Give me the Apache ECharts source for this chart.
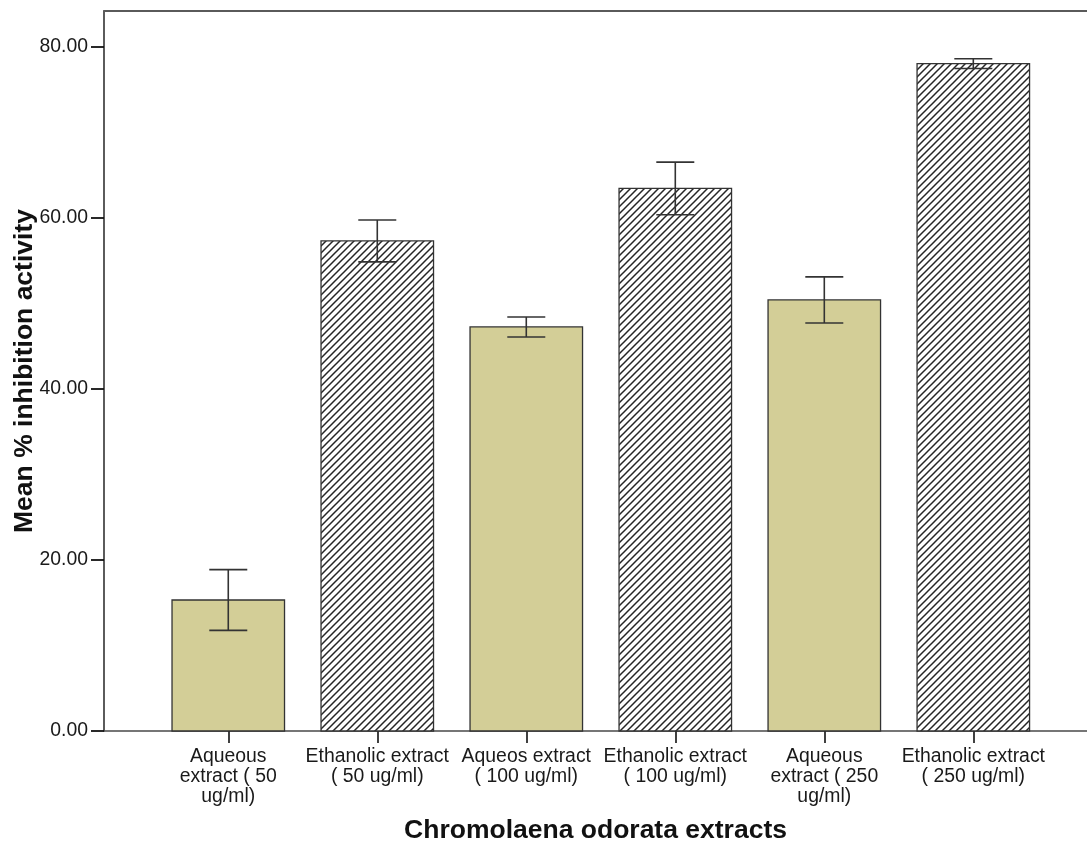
<!DOCTYPE html>
<html>
<head>
<meta charset="utf-8">
<script src="https://cdn.jsdelivr.net/npm/echarts@6/dist/echarts.min.js"></script>
<style>
html,body{margin:0;padding:0;background:#fff;}
#chart{width:1087px;height:843px;}
</style>
</head>
<body>
<div id="chart"></div>
<script>
// ---- data ----
const categories = [
  'Aqueous\nextract ( 50\nug/ml)',
  'Ethanolic extract\n( 50 ug/ml)',
  'Aqueos extract\n( 100 ug/ml)',
  'Ethanolic extract\n( 100 ug/ml)',
  'Aqueous\nextract ( 250\nug/ml)',
  'Ethanolic extract\n( 250 ug/ml)'
];
const means = [15.32, 57.31, 47.25, 63.45, 50.41, 78.04];
const errors = [3.55, 2.45, 1.17, 3.08, 2.70, 0.57];
const hatched = [false, true, false, true, false, true];
const yTicks = [0, 20, 40, 60, 80];

// ---- hatch pattern ----
function makeHatch() {
  const c = document.createElement('canvas');
  const s = 7;
  c.width = s; c.height = s;
  const ctx = c.getContext('2d');
  ctx.fillStyle = '#ffffff';
  ctx.fillRect(0, 0, s, s);
  ctx.strokeStyle = '#262626';
  ctx.lineWidth = 1.5;
  ctx.beginPath();
  ctx.moveTo(-1, s + 1); ctx.lineTo(s + 1, -1);
  ctx.moveTo(-1, 1); ctx.lineTo(1, -1);
  ctx.moveTo(s - 1, s + 1); ctx.lineTo(s + 1, s - 1);
  ctx.stroke();
  return c;
}
const hatchCanvas = makeHatch();

const barData = means.map((v, i) => [i, v, errors[i], hatched[i] ? 1 : 0]);

const xMin = -0.834, xMax = 5.763;
const font = '"Liberation Sans", Arial, sans-serif';

const chart = echarts.init(document.getElementById('chart'), null, {renderer: 'canvas'});
chart.setOption({
  animation: false,
  backgroundColor: '#ffffff',
  grid: {left: 104, right: 0, top: 11, bottom: 112, containLabel: false, outerBoundsMode: 'none'},
  xAxis: [{
    type: 'value',
    min: xMin, max: xMax,
    splitLine: {show: false},
    axisLine: {show: true, onZero: false, lineStyle: {color: '#4a4a4a', width: 1.6}},
    axisTick: {show: true, length: 12, customValues: categories.map((c, i) => i),
      lineStyle: {color: '#111', width: 1.6}},
    axisLabel: {
      customValues: categories.map((c, i) => i),
      formatter: v => categories[Math.round(v)] || '',
      margin: 16, fontSize: 19.4, lineHeight: 20, fontFamily: font, color: '#1a1a1a', align: 'center'
    },
    name: 'Chromolaena odorata extracts',
    nameLocation: 'middle',
    nameGap: 100,
    nameMoveOverlap: false,
    nameTextStyle: {fontSize: 26.5, fontWeight: 'bold', fontFamily: font, color: '#111', verticalAlign: 'middle'}
  }, {
    type: 'value', position: 'top',
    min: xMin, max: xMax,
    splitLine: {show: false},
    axisLine: {show: true, onZero: false, lineStyle: {color: '#5a5a5a', width: 2}},
    axisTick: {show: false}, axisLabel: {show: false}
  }],
  yAxis: {
    type: 'value',
    min: 0, max: 84.2,
    splitLine: {show: false},
    axisLine: {show: true, onZero: false, lineStyle: {color: '#333', width: 1.6}},
    axisTick: {show: true, length: 13, customValues: yTicks, lineStyle: {color: '#111', width: 1.8}},
    axisLabel: {
      customValues: yTicks,
      formatter: v => v.toFixed(2),
      margin: 16, fontSize: 19.4, fontFamily: font, color: '#1a1a1a'
    },
    name: 'Mean % inhibition activity',
    nameLocation: 'middle',
    nameGap: 79,
    nameRotate: 90,
    nameMoveOverlap: false,
    nameTextStyle: {fontSize: 26.5, fontWeight: 'bold', fontFamily: font, color: '#111', verticalAlign: 'middle'}
  },
  series: [{
    type: 'custom',
    xAxisIndex: 0,
    yAxisIndex: 0,
    data: barData,
    encode: {x: 0, y: 1},
    clip: false,
    renderItem: function (params, api) {
      const x = api.value(0), v = api.value(1), e = api.value(2), h = api.value(3);
      const top = api.coord([x, v]);
      const base = api.coord([x, 0]);
      const unit = api.size([1, 0])[0];
      const w = unit * 0.755;
      const cap = unit * 0.255;
      const eTop = api.coord([x, v + e]);
      const eBot = api.coord([x, v - e]);
      return {
        type: 'group',
        children: [{
          type: 'rect',
          shape: {x: top[0] - w / 2, y: top[1], width: w, height: base[1] - top[1]},
          style: {
            fill: h ? {image: hatchCanvas, repeat: 'repeat'} : '#d3ce97',
            stroke: '#333', lineWidth: 1.3
          }
        }, {
          type: 'line',
          shape: {x1: eTop[0], y1: eTop[1], x2: eBot[0], y2: eBot[1]},
          style: {stroke: '#333', lineWidth: 1.6}
        }, {
          type: 'line',
          shape: {x1: eTop[0] - cap / 2, y1: eTop[1], x2: eTop[0] + cap / 2, y2: eTop[1]},
          style: {stroke: '#333', lineWidth: 1.6}
        }, {
          type: 'line',
          shape: {x1: eBot[0] - cap / 2, y1: eBot[1], x2: eBot[0] + cap / 2, y2: eBot[1]},
          style: {stroke: '#333', lineWidth: 1.6}
        }]
      };
    }
  }]
});
</script>
</body>
</html>
